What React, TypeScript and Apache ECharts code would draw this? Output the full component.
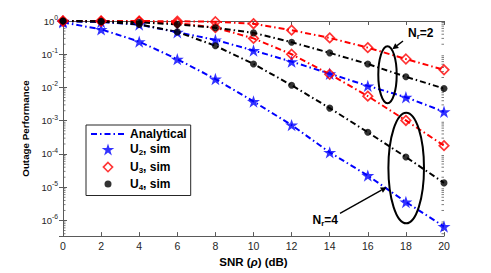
import React, { useEffect, useRef } from "react";
import * as echarts from "echarts";

// ---- data ----
const snr = [0, 2, 4, 6, 8, 10, 12, 14, 16, 18, 20];

// Nr = 2 group
const u2Nr2 = [0.98, 0.93, 0.78, 0.46, 0.27, 0.13, 0.06, 0.026, 0.0112, 0.0051, 0.00186];
const u3Nr2 = [1.0, 1.0, 0.995, 0.985, 0.95, 0.83, 0.53, 0.31, 0.158, 0.072, 0.034];
const u4Nr2 = [1.0, 0.98, 0.91, 0.79, 0.63, 0.44, 0.23, 0.11, 0.051, 0.021, 0.0093];

// Nr = 4 group
const u2Nr4 = [0.91, 0.56, 0.24, 0.071, 0.018, 0.0038, 0.00074, 0.000112, 0.0000224, 0.0000036, 0.00000066];
const u3Nr4 = [1.0, 0.99, 0.955, 0.87, 0.63, 0.3, 0.1, 0.025, 0.0055, 0.00102, 0.000178];
const u4Nr4 = [1.0, 0.955, 0.79, 0.47, 0.18, 0.051, 0.0117, 0.0024, 0.00045, 0.000081, 0.0000135];

const xTicks = { min: 0, max: 20, interval: 2 };
const yMin = 3.39e-7;
const yMax = 1;

const legendNames = ["Analytical", "U2, sim", "U3, sim", "U4, sim"];

const FONT = "Liberation Sans, Arial, Helvetica, sans-serif";
const BLUE = "#0000ff";
const RED = "#ff0000";
const BLACK = "#000000";
const AXIS = "#5a5a5a";
const DASHDOT = [6, 3, 1.5, 3];

const STAR =
  "path://M50,0L61.2,34.5L97.6,34.5L68.2,55.9L79.4,90.5L50,69.1L20.6,90.5L31.8,55.9L2.4,34.5L38.8,34.5Z";
const LEG_DIAMOND = "path://M0,0M120,120M60,14L106,60L60,106L14,60Z";
const LEG_CIRCLE = "path://M0,0M120,120M25,60A35,35 0 1 0 95,60A35,35 0 1 0 25,60Z";

function pairs(ys: number[]) {
  return snr.map((x, i) => [x, ys[i]]);
}

// positions of logarithmic minor ticks (2..9 x 10^n) inside the axis range
function minorTicks(): number[] {
  const out: number[] = [];
  for (let n = -7; n < 0; n++) {
    for (let k = 2; k <= 9; k++) {
      const v = k * Math.pow(10, n);
      if (v > yMin && v < yMax) out.push(v);
    }
  }
  return out;
}

function arrow(x1: number, y1: number, x2: number, y2: number) {
  const dx = x2 - x1;
  const dy = y2 - y1;
  const len = Math.sqrt(dx * dx + dy * dy);
  const ux = dx / len;
  const uy = dy / len;
  const hl = 6;
  const hw = 3;
  const bx = x2 - ux * hl;
  const by = y2 - uy * hl;
  return [
    {
      type: "line",
      shape: { x1, y1, x2: bx, y2: by },
      style: { stroke: BLACK, lineWidth: 1.4 },
      z: 100,
    },
    {
      type: "polygon",
      shape: {
        points: [
          [x2, y2],
          [bx - uy * hw, by + ux * hw],
          [bx + uy * hw, by - ux * hw],
        ],
      },
      style: { fill: BLACK },
      z: 100,
    },
  ];
}

function supLabel(v: number) {
  const l = Math.log10(v);
  const e = Math.round(l);
  if (Math.abs(l - e) > 1e-6) return "";
  return "10{sup|" + e + "}";
}

export default function App() {
  const ref = useRef<HTMLDivElement>(null);

  useEffect(() => {
    document.body.style.margin = "0";
    if (!ref.current) return;
    const chart = echarts.init(ref.current, null, { renderer: "svg" });

    const lineSeries = (data: number[], color: string) => ({
      name: "Analytical",
      type: "line",
      data: pairs(data),
      symbol: "none",
      lineStyle: { color, width: 2, type: DASHDOT },
      itemStyle: { color },
      z: 3,
    });

    const scatter = (name: string, data: number[], kind: string) => {
      const base: any = {
        name,
        type: "scatter",
        data: pairs(data),
        z: 5,
      };
      if (kind === "star") {
        base.symbol = STAR;
        base.symbolSize = 13;
        base.symbolKeepAspect = true;
        base.itemStyle = { color: BLUE };
      } else if (kind === "diamond") {
        base.symbol = "diamond";
        base.symbolSize = 9.5;
        base.itemStyle = { color: "rgba(255,255,255,0)", borderColor: RED, borderWidth: 1.7 };
      } else {
        base.symbol = "circle";
        base.symbolSize = 7;
        base.itemStyle = { color: BLACK };
      }
      return base;
    };

    const option: any = {
      animation: false,
      textStyle: { fontFamily: FONT },
      grid: { left: 63, right: 47, top: 21, bottom: 31, containLabel: false },
      xAxis: [
        {
          type: "value",
          min: xTicks.min,
          max: xTicks.max,
          interval: xTicks.interval,
          name: "SNR ({i|ρ}) (dB)",
          nameLocation: "middle",
          nameGap: 13,
          nameTextStyle: {
            fontFamily: FONT,
            fontWeight: "bold",
            fontSize: 11.5,
            color: "#000",
            rich: {
              i: { fontFamily: FONT, fontStyle: "italic", fontSize: 11.5, color: "#000" },
            },
          },
          axisLine: { show: true, lineStyle: { color: AXIS, width: 1 } },
          axisTick: { show: true, inside: true, length: 4, lineStyle: { color: AXIS } },
          axisLabel: { color: "#262626", fontSize: 10.5, margin: 4, fontFamily: FONT },
          splitLine: { show: false },
        },
        {
          type: "value",
          position: "top",
          min: xTicks.min,
          max: xTicks.max,
          interval: xTicks.interval,
          axisLine: { show: true, lineStyle: { color: AXIS, width: 1 } },
          axisTick: { show: true, inside: true, length: 4, lineStyle: { color: AXIS } },
          axisLabel: { show: false },
          splitLine: { show: false },
        },
      ],
      yAxis: [
        {
          type: "log",
          logBase: 10,
          min: yMin,
          max: yMax,
          name: "Outage Performance",
          nameLocation: "middle",
          nameGap: 31,
          nameTextStyle: { fontFamily: FONT, fontWeight: "bold", fontSize: 9.8, color: "#000" },
          axisLine: { show: true, lineStyle: { color: AXIS, width: 1 } },
          axisTick: { show: true, inside: true, length: 4, lineStyle: { color: AXIS } },
          axisLabel: {
            color: "#262626",
            fontSize: 9.5,
            margin: 5,
            fontFamily: FONT,
            formatter: (v: number) => supLabel(v),
            rich: {
              sup: { fontSize: 6.8, color: "#262626", fontFamily: FONT, padding: [0, 0, 7, 0] },
            },
          },
          splitLine: { show: false },
        },
        {
          type: "log",
          logBase: 10,
          position: "right",
          min: yMin,
          max: yMax,
          axisLine: { show: true, lineStyle: { color: AXIS, width: 1 } },
          axisTick: { show: true, inside: true, length: 4, lineStyle: { color: AXIS } },
          axisLabel: { show: false },
          splitLine: { show: false },
        },
      ],
      legend: {
        orient: "vertical",
        left: 86,
        top: 125,
        padding: [3, 4, 4, 4],
        itemGap: 3.4,
        itemWidth: 34,
        itemHeight: 12,
        borderColor: "#262626",
        borderWidth: 1,
        backgroundColor: "#ffffff",
        selectedMode: false,
        data: [
          { name: legendNames[0], itemStyle: { opacity: 0 } },
          { name: legendNames[1], icon: STAR },
          {
            name: legendNames[2],
            icon: LEG_DIAMOND,
            itemStyle: { color: "#ffffff", borderColor: RED, borderWidth: 1.6 },
          },
          { name: legendNames[3], icon: LEG_CIRCLE, itemStyle: { color: BLACK } },
        ],
        formatter: (name: string) => {
          if (name === "Analytical") return "Analytical";
          return "U{s|" + name.charAt(1) + "}" + name.slice(2);
        },
        textStyle: {
          fontFamily: FONT,
          fontWeight: "bold",
          fontSize: 12,
          color: "#000",
          rich: {
            s: { fontFamily: FONT, fontWeight: "bold", fontSize: 8, color: "#000", padding: [7, 0, 0, 0] },
          },
        },
      },
      graphic: [
        {
          type: "ellipse",
          shape: { cx: 387.5, cy: 74.7, rx: 9.2, ry: 28.5 },
          style: { fill: "none", stroke: BLACK, lineWidth: 2 },
          z: 100,
        },
        {
          type: "ellipse",
          shape: { cx: 406.2, cy: 168, rx: 17.8, ry: 55.3 },
          style: { fill: "none", stroke: BLACK, lineWidth: 2 },
          z: 100,
        },
        ...arrow(403, 41, 392.3, 49.3),
        ...arrow(340, 213.3, 386.7, 187.3),
        {
          type: "text",
          x: 408,
          y: 32.5,
          z: 100,
          style: {
            text: "N{s|r}=2",
            fill: BLACK,
            font: "bold 12px " + FONT,
            verticalAlign: "middle",
            align: "left",
            rich: { s: { fontFamily: FONT, fontWeight: "bold", fontSize: 8, fill: BLACK, padding: [7, 0, 0, 0] } },
          },
        },
        {
          type: "text",
          x: 312.5,
          y: 220,
          z: 100,
          style: {
            text: "N{s|r}=4",
            fill: BLACK,
            font: "bold 12px " + FONT,
            verticalAlign: "middle",
            align: "left",
            rich: { s: { fontFamily: FONT, fontWeight: "bold", fontSize: 8, fill: BLACK, padding: [7, 0, 0, 0] } },
          },
        },
      ],
      series: [
        lineSeries(u2Nr2, BLUE),
        lineSeries(u2Nr4, BLUE),
        lineSeries(u3Nr2, RED),
        lineSeries(u3Nr4, RED),
        lineSeries(u4Nr2, BLACK),
        lineSeries(u4Nr4, BLACK),
        scatter(legendNames[1], u2Nr2, "star"),
        scatter(legendNames[1], u2Nr4, "star"),
        scatter(legendNames[2], u3Nr2, "diamond"),
        scatter(legendNames[2], u3Nr4, "diamond"),
        scatter(legendNames[3], u4Nr2, "circle"),
        scatter(legendNames[3], u4Nr4, "circle"),
        {
          type: "custom",
          name: "minorTicks",
          silent: true,
          z: 1,
          data: minorTicks().map((v) => [xTicks.min, v]),
          renderItem: (_params: any, api: any) => {
            const v = api.value(1);
            const p0 = api.coord([xTicks.min, v]);
            const p1 = api.coord([xTicks.max, v]);
            return {
              type: "group",
              children: [
                {
                  type: "line",
                  shape: { x1: p0[0], y1: p0[1], x2: p0[0] + 2.5, y2: p0[1] },
                  style: { stroke: AXIS, lineWidth: 0.8 },
                },
                {
                  type: "line",
                  shape: { x1: p1[0] - 2.5, y1: p1[1], x2: p1[0], y2: p1[1] },
                  style: { stroke: AXIS, lineWidth: 0.8 },
                },
              ],
            };
          },
        },
      ],
    };

    chart.setOption(option);
    return () => chart.dispose();
  }, []);

  return <div ref={ref} style={{ width: 491, height: 273 }} />;
}
